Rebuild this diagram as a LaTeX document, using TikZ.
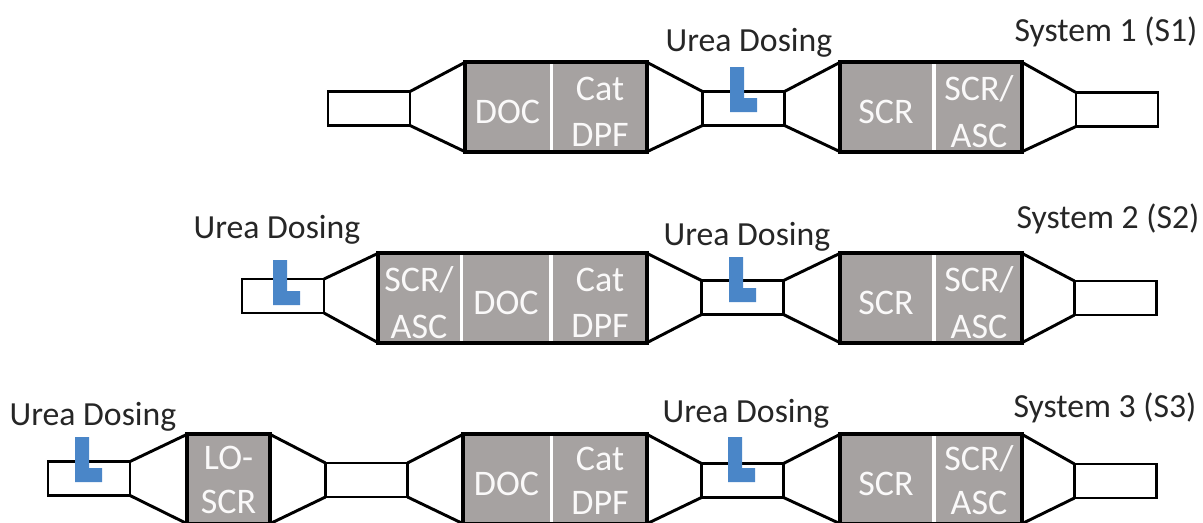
\documentclass[tikz,border=0pt]{standalone}
\usepackage{fontspec}
\setmainfont{Carlito}
\definecolor{catgrey}{HTML}{A6A2A1}
\definecolor{dosingblue}{HTML}{4A86C8}
\newcommand{\dosingL}[2]{\fill[dosingblue] (#1,#2) -- ++(14,0) -- ++(0,31) -- ++(13,0) -- ++(0,14) -- ++(-27,0) -- cycle;}
\tikzset{
    tube/.style={draw=black,line width=2.2pt,fill=white,minimum width=61.5pt,minimum height=25.5pt,inner sep=0pt,outer sep=0pt},
    catbox/.style={fill=catgrey,minimum width=#1*0.75pt,minimum height=67pt,inner sep=0pt,outer sep=0pt},
    cattext/.style={yshift=-3.5pt,inner sep=0pt,text=white!94!catgrey,align=center,font=\fontsize{27}{35}\selectfont},
    cattextlow/.style={cattext,yshift=2.5pt,font=\fontsize{27}{33}\selectfont},
    shell/.style={draw=black,line width=3pt},
    cone/.style={draw=black,line width=2.2pt},
    caption/.style={yshift=-1.5pt,inner sep=0pt,text=black!85,font=\fontsize{25.3}{30}\selectfont}
}
\begin{document}
\begin{tikzpicture}[x=0.75pt,y=-0.75pt]
    \useasboundingbox (0,0) rectangle (1203,522);
    % System 1
    \node[caption] (label1) at (1106,30) {System 1 (S1)};
    \node[caption] (doseA) at (749,41) {Urea Dosing};
    \node[tube] (inA) at (369,108.5) {};
    \node[catbox=85,label={[cattext]center:DOC}] (docA) at (507.5,107) {};
    \node[catbox=94,label={[cattext]center:Cat\\DPF}] (dpfA) at (600,107) {};
    \node[tube] (midA) at (743.5,108.5) {};
    \node[catbox=92,label={[cattext]center:SCR}] (scrA) at (886,107) {};
    \node[catbox=86,label={[cattext]center:SCR/\\ASC}] (ascA) at (979,107) {};
    \node[tube] (outA) at (1117,109.5) {};
    \draw[shell] (docA.north west) rectangle (dpfA.south east);
    \draw[shell] (scrA.north west) rectangle (ascA.south east);
    \draw[cone] (inA.north east) -- (docA.north west) (inA.south east) -- (docA.south west);
    \draw[cone] (dpfA.north east) -- (midA.north west) (dpfA.south east) -- (midA.south west);
    \draw[cone] (midA.north east) -- (scrA.north west) (midA.south east) -- (scrA.south west);
    \draw[cone] (ascA.north east) -- (outA.north west) (ascA.south east) -- (outA.south west);
    \dosingL{730}{67}
    % System 2
    \node[caption] (label2) at (1108,217) {System 2 (S2)};
    \node[caption] (doseB) at (277,228) {Urea Dosing};
    \node[caption] (doseC) at (747,235) {Urea Dosing};
    \node[tube] (inB) at (283,296) {};
    \node[catbox=82,label={[cattext]center:SCR/\\ASC}] (lowB) at (419,298) {};
    \node[catbox=86,label={[cattext]center:DOC}] (docB) at (506,298) {};
    \node[catbox=94,label={[cattext]center:Cat\\DPF}] (dpfB) at (600,298) {};
    \node[tube] (midB) at (742.5,297.5) {};
    \node[catbox=92,label={[cattext]center:SCR}] (scrB) at (886,298) {};
    \node[catbox=86,label={[cattext]center:SCR/\\ASC}] (ascB) at (979,298) {};
    \node[tube] (outB) at (1115.5,298) {};
    \draw[shell] (lowB.north west) rectangle (dpfB.south east);
    \draw[shell] (scrB.north west) rectangle (ascB.south east);
    \draw[cone] (inB.north east) -- (lowB.north west) (inB.south east) -- (lowB.south west);
    \draw[cone] (dpfB.north east) -- (midB.north west) (dpfB.south east) -- (midB.south west);
    \draw[cone] (midB.north east) -- (scrB.north west) (midB.south east) -- (scrB.south west);
    \draw[cone] (ascB.north east) -- (outB.north west) (ascB.south east) -- (outB.south west);
    \dosingL{273}{260}
    \dosingL{729}{257}
    % System 3
    \node[caption] (label3) at (1105,406) {System 3 (S3)};
    \node[caption] (doseD) at (93,415) {Urea Dosing};
    \node[caption] (doseE) at (746,412) {Urea Dosing};
    \node[tube] (inC) at (89,478.5) {};
    \node[catbox=83,label={[cattextlow]center:LO-\\SCR}] (lowC) at (228.5,479) {};
    \node[tube] (linkC) at (366.5,480) {};
    \node[catbox=87,label={[cattext]center:DOC}] (docC) at (506.5,479) {};
    \node[catbox=94,label={[cattextlow]center:Cat\\DPF}] (dpfC) at (600,479) {};
    \node[tube] (midC) at (742.5,480.5) {};
    \node[catbox=92,label={[cattext]center:SCR}] (scrC) at (886,479) {};
    \node[catbox=86,label={[cattextlow]center:SCR/\\ASC}] (ascC) at (979,479) {};
    \node[tube] (outC) at (1115.5,481) {};
    \draw[shell] (lowC.north west) rectangle (lowC.south east);
    \draw[shell] (docC.north west) rectangle (dpfC.south east);
    \draw[shell] (scrC.north west) rectangle (ascC.south east);
    \draw[cone] (inC.north east) -- (lowC.north west) (inC.south east) -- (lowC.south west);
    \draw[cone] (lowC.north east) -- (linkC.north west) (lowC.south east) -- (linkC.south west);
    \draw[cone] (linkC.north east) -- (docC.north west) (linkC.south east) -- (docC.south west);
    \draw[cone] (dpfC.north east) -- (midC.north west) (dpfC.south east) -- (midC.south west);
    \draw[cone] (midC.north east) -- (scrC.north west) (midC.south east) -- (scrC.south west);
    \draw[cone] (ascC.north east) -- (outC.north west) (ascC.south east) -- (outC.south west);
    \dosingL{75}{437}
    \dosingL{728}{437}
\end{tikzpicture}
\end{document}
